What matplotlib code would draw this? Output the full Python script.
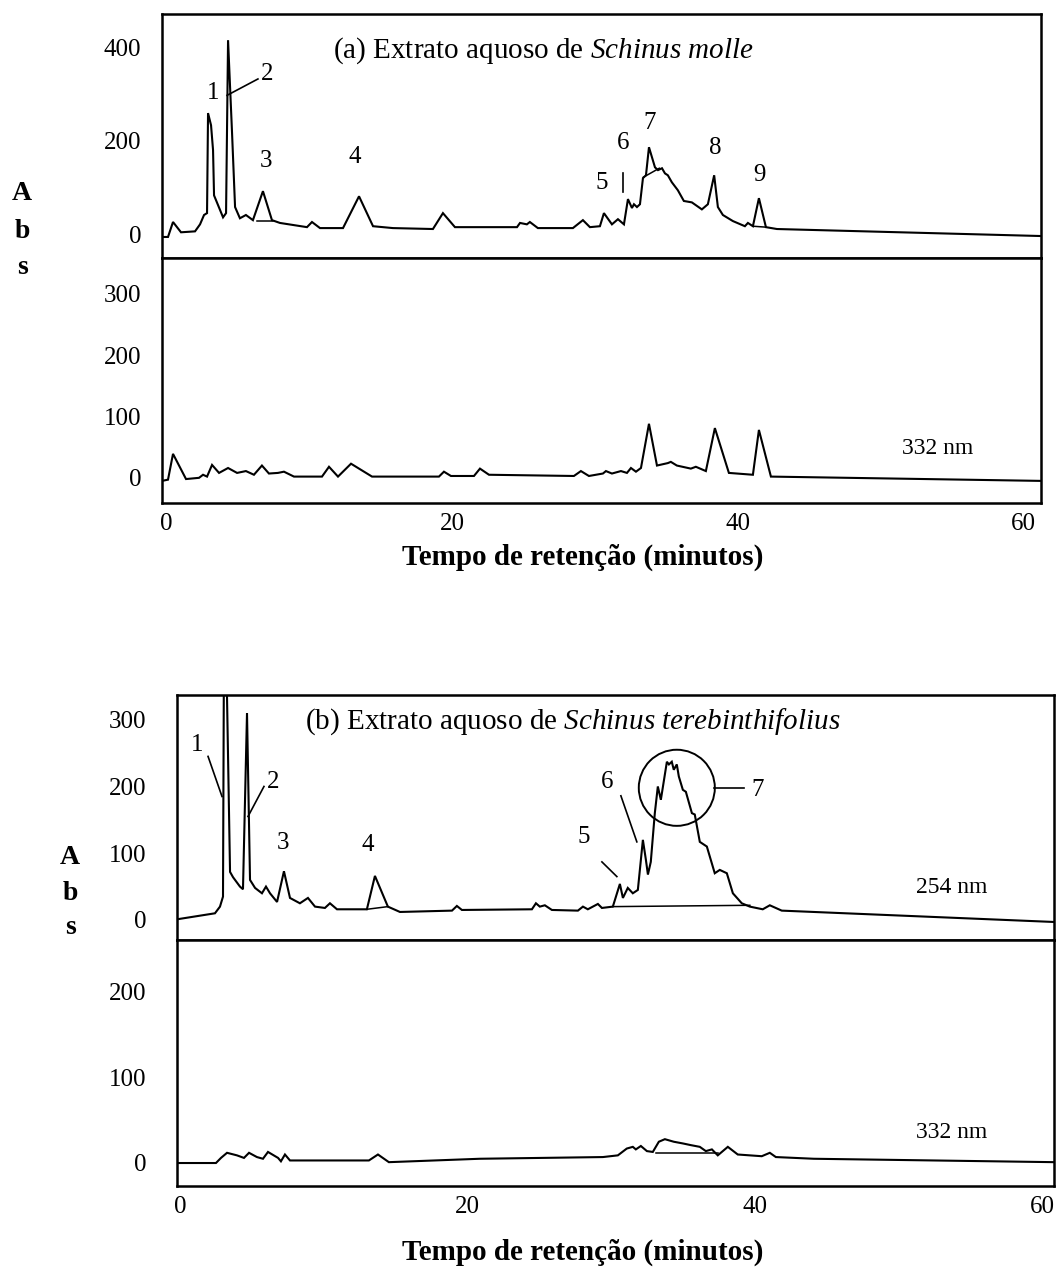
import numpy as np
import matplotlib
matplotlib.use("Agg")
import matplotlib.pyplot as plt
from matplotlib.patches import Ellipse

plt.rcParams['font.family'] = ['Liberation Serif', 'DejaVu Serif']
plt.rcParams['mathtext.fontset'] = 'custom'
plt.rcParams['mathtext.rm'] = 'Liberation Serif'
plt.rcParams['mathtext.it'] = 'Liberation Serif:italic'
plt.rcParams['mathtext.bf'] = 'Liberation Serif:bold'

# ---------------- data (retention time in min, absorbance) ----------------
# (a) Schinus molle, 254 nm
a254_t = [-0.28, 0.14, 0.49, 1.05, 2.03, 2.38, 2.66, 2.87, 2.94, 3.15, 3.29, 3.36,
          3.99, 4.20, 4.34, 4.62, 4.83, 5.17, 5.59, 6.08, 6.78, 7.41, 7.97, 9.86,
          10.21, 10.77, 12.38, 13.50, 14.48, 15.87, 18.67, 19.37, 20.21, 24.55,
          24.76, 25.24, 25.45, 26.01, 28.46, 29.16, 29.65, 30.35, 30.63, 31.19,
          31.61, 32.03, 32.31, 32.59, 32.73, 32.94, 33.15, 33.36, 33.57, 33.78,
          34.20, 34.41, 34.69, 34.90, 35.10, 35.38, 35.80, 36.22, 36.78, 37.48,
          37.90, 38.34, 38.60, 38.95, 39.65, 40.49, 40.70, 41.05, 41.47, 41.96,
          42.73, 61.2]
a254_abs = [-6, -6, 26, 4, 6, 21, 41, 45, 259, 233, 180, 83,
            36, 45, 415, 216, 58, 34, 41, 30, 92, 30, 24, 15,
            26, 13, 13, 81, 17, 13, 11, 45, 15, 15,
            24, 21, 26, 13, 13, 30, 15, 17, 45, 21,
            32, 21, 75, 56, 64, 58, 64, 120, 126, 186,
            143, 137, 141, 130, 126, 111, 94, 71, 68, 53,
            64, 126, 58, 41, 28, 17, 24, 17, 77, 15,
            11, -4]
a254_base = [(6.36, 28, 7.48, 28), (33.40, 122, 34.50, 141), (41.05, 17, 41.96, 15)]

# (a) Schinus molle, 332 nm
a332_t = [-0.28, 0.14, 0.49, 1.40, 2.31, 2.59, 2.87, 3.22, 3.71, 4.34, 4.97, 5.59,
          6.15, 6.71, 7.20, 7.83, 8.25, 8.95, 10.91, 11.40, 12.03, 12.94, 14.41,
          19.09, 19.44, 19.93, 21.54, 21.96, 22.59, 28.53, 29.02, 29.58, 30.56,
          30.77, 31.19, 31.82, 32.24, 32.52, 32.87, 33.22, 33.78, 34.34, 35.10,
          35.31, 35.73, 36.71, 37.06, 37.76, 38.39, 39.37, 41.05, 41.47, 42.31, 61.2]
a332_abs = [-5, -3, 39, -2, 0, 5, 2, 21, 8, 16, 8, 11,
            5, 20, 7, 8, 10, 2, 2, 18, 2, 23, 2,
            2, 10, 3, 3, 15, 5, 3, 11, 3, 7,
            11, 7, 11, 8, 16, 10, 16, 88, 20, 24,
            26, 20, 15, 18, 11, 81, 8, 5, 78, 2, -5]

# (b) Schinus terebinthifolius, 254 nm
b254_t = [-0.21, 2.43, 2.78, 2.99, 3.06, 3.20, 3.48, 3.69, 4.17, 4.38, 4.66, 4.87,
          5.22, 5.70, 5.98, 6.26, 6.75, 7.23, 7.65, 8.34, 8.90, 9.39, 10.08, 10.43,
          10.92, 13.00, 13.56, 14.46, 15.30, 18.92, 19.26, 19.61, 24.48, 24.76,
          25.03, 25.38, 25.87, 27.68, 28.03, 28.37, 29.07, 29.35, 30.11, 30.60,
          30.81, 31.15, 31.50, 31.85, 32.20, 32.41, 32.55, 32.75, 33.03, 33.24,
          33.45, 33.87, 34.01, 34.21, 34.35, 34.56, 34.70, 34.98, 35.19, 35.61,
          35.81, 36.16, 36.65, 37.20, 37.55, 38.04, 38.46, 39.08, 39.64, 40.54,
          41.03, 41.86, 60.8]
b254_abs = [1, 10, 20, 35, 420, 420, 72, 64, 50, 46, 310, 60,
            48, 40, 50, 40, 27, 73, 33, 25, 33, 20, 18, 25,
            16, 16, 66, 20, 12, 14, 21, 15, 16, 25,
            20, 22, 15, 14, 20, 16, 24, 18, 20, 54,
            33, 48, 40, 45, 120, 90, 68, 87, 160, 200,
            180, 237, 233, 237, 225, 233, 215, 195, 192, 160,
            158, 117, 110, 70, 75, 70, 40, 25, 20, 16,
            22, 14, -3]
b254_base = [(30.11, 20, 39.64, 22), (13.00, 16, 14.46, 20)]

# (b) Schinus terebinthifolius, 332 nm
b332_t = [-0.21, 2.50, 2.85, 3.27, 3.96, 4.45, 4.80, 5.35, 5.77, 6.12, 6.82, 7.02,
          7.30, 7.65, 13.14, 13.77, 14.53, 20.86, 29.42, 30.46, 31.08, 31.50, 31.71,
          32.06, 32.48, 32.89, 33.31, 33.73, 34.35, 34.98, 35.54, 36.16, 36.58,
          37.00, 37.41, 38.11, 38.80, 40.47, 41.03, 41.45, 44.09, 60.8]
b332_abs = [-1, -1, 5, 11, 8, 5, 11, 6, 4, 12, 5, 1,
            9, 2, 2, 9, 0, 4, 6, 8, 16, 18, 15,
            19, 13, 12, 24, 27, 24, 22, 20, 18, 13,
            15, 8, 18, 9, 7, 11, 6, 4, 0]
b332_base = [(33.10, 11, 37.40, 11)]

x_ticks = [0, 20, 40, 60]
a254_yticks = [0, 200, 400]
a332_yticks = [0, 100, 200, 300]
b254_yticks = [0, 100, 200, 300]
b332_yticks = [0, 100, 200]

# ---------------- figure ----------------
W, H = 1062, 1279
fig = plt.figure(figsize=(W / 100, H / 100), dpi=100)


def fax(l, t, r, b):
    return fig.add_axes([l / W, 1 - b / H, (r - l) / W, (b - t) / H])


ax_a1 = fax(162, 14, 1041, 258)
ax_a2 = fax(162, 258, 1041, 503)
ax_b1 = fax(177, 695, 1054, 940)
ax_b2 = fax(177, 940, 1054, 1186)

LW = 1.5
TFS = 18


def style(ax, xlim, ylim, yticks, ypad, show_x):
    ax.set_xlim(*xlim)
    ax.set_ylim(*ylim)
    ax.set_yticks(yticks)
    ax.set_yticklabels([str(v) for v in yticks])
    ax.tick_params(axis='y', length=0, pad=ypad, labelsize=TFS)
    if show_x:
        ax.set_xticks(x_ticks)
        ax.set_xticklabels([str(v) for v in x_ticks])
        ax.tick_params(axis='x', length=0, pad=7, labelsize=TFS)
    else:
        ax.set_xticks([])
    for s in ax.spines.values():
        s.set_linewidth(1.8)
        s.set_color('black')


def trace(ax, t, v, bases):
    ax.plot(t, v, color='black', lw=LW, solid_joinstyle='miter', clip_on=True)
    for (t0, v0, t1, v1) in bases:
        ax.plot([t0, t1], [v0, v1], color='black', lw=1.1)


xa = (-0.28, 61.2)
xb = (-0.21, 60.8)
style(ax_a1, xa, (-51, 471), a254_yticks, 15, False)
style(ax_a2, xa, (-41, 358), a332_yticks, 15, True)
style(ax_b1, xb, (-30, 337), b254_yticks, 22, False)
style(ax_b2, xb, (-28, 261), b332_yticks, 22, True)

trace(ax_a1, a254_t, a254_abs, a254_base)
trace(ax_a2, a332_t, a332_abs, [])
trace(ax_b1, b254_t, b254_abs, b254_base)
trace(ax_b2, b332_t, b332_abs, b332_base)

# ---- panel (a) annotations ----
ax_a1.text(0.195, 0.85, r"(a) Extrato aquoso de $\mathit{Schinus\ molle}$",
           transform=ax_a1.transAxes, ha='left', va='center', fontsize=21)
for lab, t, v in [("1", 3.29, 302), ("2", 7.06, 342), ("3", 6.99, 156), ("4", 13.22, 165),
                  ("5", 30.49, 109), ("6", 31.96, 195), ("7", 33.85, 237),
                  ("8", 38.39, 184), ("9", 41.54, 126)]:
    ax_a1.text(t, v, lab, ha='center', va='center', fontsize=TFS)
ax_a1.plot([4.27, 6.43], [297, 332], color='black', lw=1.2)
ax_a1.plot([31.96, 31.96], [130, 90], color='black', lw=1.2)
ax_a2.text(54.0, 47, "332 nm", ha='center', va='center', fontsize=17)

# ---- panel (b) annotations ----
ax_b1.text(0.146, 0.89, r"(b) Extrato aquoso de $\mathit{Schinus\ terebinthifolius}$",
           transform=ax_b1.transAxes, ha='left', va='center', fontsize=21)
for lab, t, v in [("1", 1.18, 262), ("2", 6.47, 207), ("3", 7.16, 116), ("4", 13.07, 113),
                  ("5", 28.09, 125), ("6", 29.69, 207), ("7", 40.19, 195)]:
    ax_b1.text(t, v, lab, ha='center', va='center', fontsize=TFS)
for (t0, v0, t1, v1) in [(1.95, 245, 2.92, 185), (5.84, 200, 4.73, 155),
                         (29.35, 87, 30.39, 65), (30.67, 186, 31.78, 117),
                         (37.13, 198, 39.22, 198)]:
    ax_b1.plot([t0, t1], [v0, v1], color='black', lw=1.2)
ax_b1.add_patch(Ellipse((34.56, 198), 5.29, 114, fill=False, edgecolor='black', lw=1.4))
ax_b1.text(53.7, 48, "254 nm", ha='center', va='center', fontsize=17)
ax_b2.text(53.7, 35, "332 nm", ha='center', va='center', fontsize=17)

# ---- axis titles ----
for y in (194, 231, 268):
    pass
for ch, y in zip("Abs", (194, 231, 268)):
    fig.text(22 / W, 1 - y / H, ch, ha='center', va='center', fontsize=20, fontweight='bold')
for ch, y in zip("Abs", (858, 893, 927)):
    fig.text(70 / W, 1 - y / H, ch, ha='center', va='center', fontsize=20, fontweight='bold')

fig.text(583 / W, 1 - 557 / H, "Tempo de retenção (minutos)", ha='center', va='center',
         fontsize=21, fontweight='bold')
fig.text(583 / W, 1 - 1252 / H, "Tempo de retenção (minutos)", ha='center', va='center',
         fontsize=21, fontweight='bold')

fig.savefig("out.png", dpi=100, facecolor='white')
